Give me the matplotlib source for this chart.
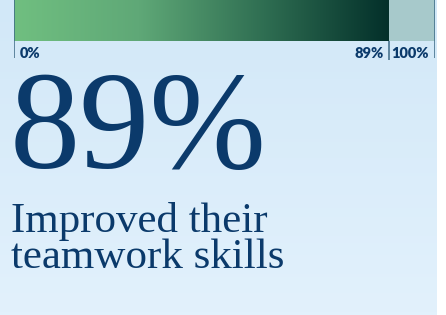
import numpy as np
import matplotlib
matplotlib.use("Agg")
import matplotlib.pyplot as plt
from matplotlib.colors import LinearSegmentedColormap

# data
value = 89
total = 100
tick_labels = ["0%", "89%", "100%"]
big_label = "89%"
caption = "Improved their\nteamwork skills"

NAVY = "#0b3a6b"
W, H = 446, 315

fig = plt.figure(figsize=(W / 100, H / 100), dpi=100)
fig.patch.set_facecolor("white")

# light blue background panel (slight vertical gradient)
bg = fig.add_axes([0, 0, 437 / W, 1])
bg_cmap = LinearSegmentedColormap.from_list("bg", ["#e2f1fc", "#d2e8f8"])
bg.imshow(np.linspace(0, 1, 100).reshape(-1, 1), cmap=bg_cmap, aspect="auto",
          origin="lower", extent=[0, 1, 0, 1])
bg.set_xlim(0, 1)
bg.set_ylim(0, 1)
bg.axis("off")

# progress bar
ax = fig.add_axes([14 / W, (H - 41) / H, 421 / W, 41 / H])
ax.set_xlim(0, total)
ax.set_ylim(0, 1)
ax.axis("off")
green = LinearSegmentedColormap.from_list("g", ["#70bf80", "#5fa877", "#2f6e52", "#03302a"])
ax.imshow(np.linspace(0, 1, 256).reshape(1, -1), cmap=green, aspect="auto",
          extent=[0, value, 0, 1], zorder=1)
ax.barh(0.5, total - value, left=value, height=1, color="#a7c9cb", zorder=0)
ax.set_xlim(0, total)
ax.set_ylim(0, 1)

# tick lines and labels below the bar
tk = fig.add_axes([14 / W, (H - 62) / H, 421 / W, 62 / H])
tk.set_xlim(0, total)
tk.set_ylim(0, 62)
tk.axis("off")
tk.vlines([0, total], 4, 62, color="#3d6a86", lw=1.1)
tk.vlines([value], 2, 21, color="#3d6a86", lw=1.1)
lab = dict(va="baseline", fontsize=10.5, fontweight="heavy", color=NAVY, family="Lato")
tk.text(1.4, 4, tick_labels[0], ha="left", **lab)
tk.text(value - 1.2, 4, tick_labels[1], ha="right", **lab)
tk.text(value + 0.7, 4, tick_labels[2], ha="left", **lab)

# big number
fig.text(10 / W, 1 - 168 / H, big_label, ha="left", va="baseline", fontsize=101,
         color=NAVY, family="Liberation Serif")

# caption
fig.text(11 / W, 1 - 268 / H, caption, ha="left", va="baseline", fontsize=31,
         color=NAVY, family="Liberation Serif", linespacing=0.92)

fig.savefig("out.png", dpi=100)
